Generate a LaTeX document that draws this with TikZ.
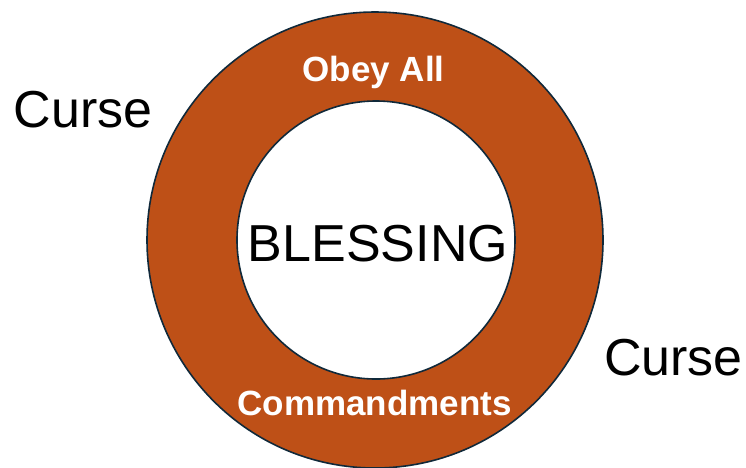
\documentclass[tikz,border=0pt]{standalone}
\usepackage{fontspec}
\setmainfont{Liberation Sans}
\definecolor{rust}{HTML}{BE5017}
\definecolor{rim}{HTML}{10293A}
\tikzset{
  ring/.style={circle, draw=rim, line width=1.6pt, inner sep=0pt},
  big/.style={font=\fontsize{52}{52}\selectfont, text=black, anchor=base},
  band/.style={font=\bfseries\fontsize{35}{35}\selectfont, text=white, anchor=base},
}

\begin{document}
\begin{tikzpicture}[x=1pt, y=-1pt]
  \useasboundingbox (0,0) rectangle (746,467);
  \node[ring, fill=rust,  minimum size=456pt] (outer) at (375,240) {};
  \node[ring, fill=white, minimum size=278pt] (inner) at (376,240) {};

  \node[big]  (bless)  at (378,261)   {BLESSING};
  \node[band] (obey)   at (373.5,81)  {Obey All};
  \node[band] (cmds)   at (374.5,415) {Commandments};
  \node[big]  (cursel) at (83,127)    {Curse};
  \node[big]  (curser) at (673.5,375) {Curse};
\end{tikzpicture}
\end{document}
